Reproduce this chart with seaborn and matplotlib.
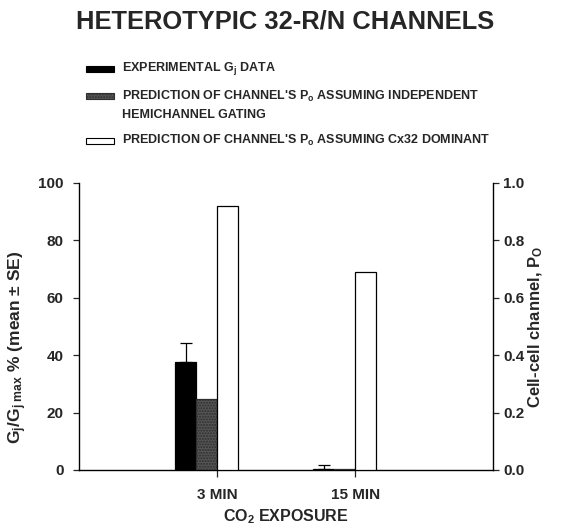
import numpy as np
import pandas as pd
import matplotlib
matplotlib.use("Agg")
import matplotlib.pyplot as plt
import matplotlib.patches as mpatches
import seaborn as sns

# ---- data ----
conditions = ["3 MIN", "15 MIN"]
series_names = ["EXPERIMENTAL", "INDEPENDENT", "CX32 DOMINANT", "UNUSED"]
gj_percent = [37.6, 0.5]          # experimental Gj/Gj max %
gj_se = [6.6, 1.2]                # SE
po_independent = [0.247, 0.004]   # predicted Po, independent gating
po_cx32_dominant = [0.92, 0.69]   # predicted Po, Cx32 dominant
legend_labels = [
    "EXPERIMENTAL G$_\\mathregular{j}$ DATA",
    "PREDICTION OF CHANNEL'S P$_\\mathregular{o}$ ASSUMING INDEPENDENT\nHEMICHANNEL GATING",
    "PREDICTION OF CHANNEL'S P$_\\mathregular{o}$ ASSUMING Cx32 DOMINANT",
]
left_ticks = [0, 20, 40, 60, 80, 100]
right_ticks = [0.0, 0.2, 0.4, 0.6, 0.8, 1.0]

sns.set_style("white")
plt.rcParams["font.family"] = ["Liberation Sans", "DejaVu Sans"]
plt.rcParams["font.weight"] = "bold"
plt.rcParams["mathtext.fontset"] = "custom"
plt.rcParams["mathtext.rm"] = "Liberation Sans:bold"
plt.rcParams["mathtext.it"] = "Liberation Sans:bold"
plt.rcParams["mathtext.bf"] = "Liberation Sans:bold"

GRAY = "#555555"
colors = {"EXPERIMENTAL": "#000000", "INDEPENDENT": GRAY,
          "CX32 DOMINANT": "#ffffff", "UNUSED": "#ffffff"}

df_left = pd.DataFrame({"cond": conditions, "series": "EXPERIMENTAL", "val": gj_percent})
df_right = pd.concat([
    pd.DataFrame({"cond": conditions, "series": "INDEPENDENT", "val": po_independent}),
    pd.DataFrame({"cond": conditions, "series": "CX32 DOMINANT", "val": po_cx32_dominant}),
], ignore_index=True)

fig = plt.figure(figsize=(5.66, 5.31), dpi=100)
ax = fig.add_axes([0.1396, 0.1149, 0.7318, 0.5405])
ax2 = ax.twinx()

sns.barplot(data=df_left, x="cond", y="val", hue="series", hue_order=series_names,
            order=conditions, palette=colors, width=0.608, errorbar=None, dodge=True,
            edgecolor="black", linewidth=0.9, ax=ax, legend=False, saturation=1)
sns.barplot(data=df_right, x="cond", y="val", hue="series", hue_order=series_names,
            order=conditions, palette=colors, width=0.608, errorbar=None, dodge=True,
            edgecolor="black", linewidth=0.9, ax=ax2, legend=False, saturation=1)

# stipple on gray bars
for p in ax2.patches:
    if p.get_height() > 0 and np.allclose(p.get_facecolor()[:3], matplotlib.colors.to_rgb(GRAY)):
        p.set_hatch("......")
        p.set_edgecolor("#2e2e2e")

# error bars for experimental data (upper only)
exp_bars = [p for p in ax.patches if p.get_width() > 0 and p.get_height() > 0]
exp_bars = sorted(exp_bars, key=lambda p: p.get_x())[:len(gj_percent)]
for p, v, e in zip(exp_bars, gj_percent, gj_se):
    ax.errorbar(p.get_x() + p.get_width() / 2, v, yerr=[[0], [e]], fmt="none",
                ecolor="black", elinewidth=0.9, capsize=4, capthick=0.9)

ax.set_xlim(-1, 2)
ax.set_ylim(0, 100)
ax2.set_ylim(0, 1.0)
ax.set_yticks(left_ticks)
ax2.set_yticks(right_ticks)
ax2.set_yticklabels([f"{t:.1f}" for t in right_ticks])

for a in (ax, ax2):
    a.spines["top"].set_visible(False)
    for s in ("left", "right", "bottom"):
        a.spines[s].set_linewidth(1.0)
        a.spines[s].set_color("black")
ax.spines["right"].set_visible(False)
ax2.spines["left"].set_visible(False)
ax2.spines["bottom"].set_visible(False)

ax.tick_params(axis="y", direction="out", length=4, width=0.9, labelsize=11, pad=7, left=True)
ax.tick_params(axis="x", direction="out", length=5, width=0.9, labelsize=11, pad=8, bottom=True)
ax2.tick_params(axis="y", direction="out", length=4, width=0.9, labelsize=11, pad=3, right=True)
for lab in ax.get_xticklabels() + ax.get_yticklabels() + ax2.get_yticklabels():
    lab.set_fontweight("bold")

ax.set_xlabel("CO$_\\mathregular{2}$ EXPOSURE", fontsize=11.5, fontweight="bold")
ax.xaxis.set_label_coords(0.5, -(517 - 470) / 287, transform=ax.transAxes)
ax.xaxis.label.set_va("center")
ax.set_ylabel("G$_\\mathregular{j}$/G$_\\mathregular{j\\ max}$ % (mean ± SE)", fontsize=12.5,
              fontweight="bold")
ax.yaxis.set_label_coords(-(79 - 18) / 414, (470 - 347) / 287)
ax.yaxis.label.set_va("center")
ax2.set_ylabel("Cell-cell channel, P$_\\mathregular{O}$", fontsize=12, fontweight="bold")
ax2.yaxis.set_label_coords(1 + (536 - 493) / 414, 0.5)
ax2.yaxis.label.set_va("center")

fig.text(0.503, 1 - 21.5 / 531, "HETEROTYPIC 32-R/N CHANNELS", ha="center", va="center",
         fontsize=18.4, fontweight="bold")

# manual legend
W, H = 566, 531
leg_rows = [(66, "#000000", None, 69), (93, GRAY, "......", 95), (138, "#ffffff", None, 140)]
for (ytop, fc, hatch, ytext), lab in zip(leg_rows, legend_labels):
    rect = mpatches.Rectangle((86 / W, 1 - (ytop + 6) / H), 28 / W, 6 / H,
                              transform=fig.transFigure, facecolor=fc,
                              edgecolor="black" if hatch is None else "#2e2e2e",
                              linewidth=0.8, hatch=hatch)
    fig.add_artist(rect)
    if "\n" in lab:
        fig.text(122 / W, 1 - (ytext - 6) / H, lab, ha="left", va="top",
                 fontsize=9, fontweight="bold", linespacing=1.5)
    else:
        fig.text(122 / W, 1 - ytext / H, lab, ha="left", va="center",
                 fontsize=9, fontweight="bold")

fig.savefig("out.png", dpi=100)
